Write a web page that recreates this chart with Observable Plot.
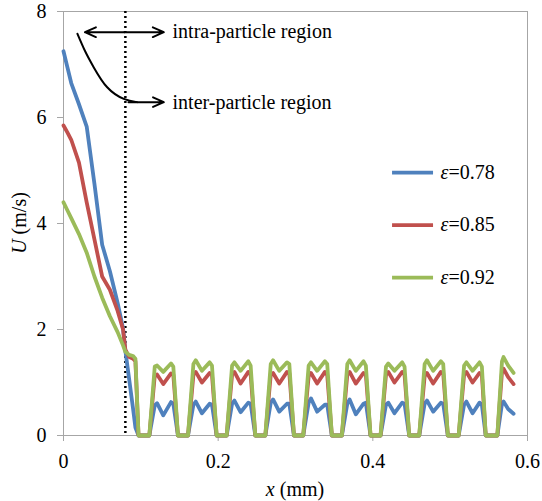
<!DOCTYPE html>
<html>
<head>
<meta charset="utf-8">
<script src="https://cdn.jsdelivr.net/npm/d3@7"></script>
<script src="https://cdn.jsdelivr.net/npm/@observablehq/plot@0.6"></script>
<style>
  html, body { margin: 0; padding: 0; background: #fff; }
  #chart { width: 542px; height: 501px; }
  #chart svg, #chart svg text, #chart svg g { font-family: "Liberation Serif", "Times New Roman", serif !important; font-size: 20px; }
</style>
</head>
<body>
<div id="chart"></div>
<script>
// ---- data ----
const seriesLabels = ["ε=0.78", "ε=0.85", "ε=0.92"];
const seriesColors = ["#4F81BD", "#C0504D", "#9BBB59"];

// inlet (intra-particle) part, shared x positions (mm)
const xInlet = [0, 0.005, 0.01, 0.02, 0.03, 0.04, 0.05, 0.06, 0.07, 0.077, 0.08, 0.085, 0.09, 0.093, 0.097];
const uInlet078 = [7.25, 6.95, 6.65, 6.25, 5.83, 4.75, 3.6, 3.1, 2.5, 2.02, 1.6, 1.05, 0.5, 0.15, 0];
const uInlet085 = [5.85, 5.72, 5.58, 5.15, 4.4, 3.7, 3.0, 2.75, 2.35, 2.0, 1.62, 1.48, 1.45, 1.4, 0];
const uInlet092 = [4.4, 4.25, 4.1, 3.8, 3.45, 3.0, 2.6, 2.25, 1.95, 1.7, 1.58, 1.52, 1.5, 1.45, 0];

// periodic (inter-particle) part, shared x positions (mm)
const xPeriodic = [
  0.111, 0.118, 0.121, 0.129, 0.139, 0.142, 0.148,
  0.161, 0.168, 0.171, 0.179, 0.189, 0.192, 0.198,
  0.211, 0.218, 0.221, 0.229, 0.239, 0.242, 0.248,
  0.261, 0.268, 0.271, 0.279, 0.289, 0.292, 0.298,
  0.310, 0.317, 0.320, 0.328, 0.338, 0.341, 0.347,
  0.360, 0.367, 0.370, 0.378, 0.388, 0.391, 0.397,
  0.410, 0.417, 0.420, 0.428, 0.438, 0.441, 0.447,
  0.460, 0.467, 0.470, 0.478, 0.488, 0.491, 0.497,
  0.511, 0.518, 0.521, 0.529, 0.538, 0.541, 0.546,
  0.561, 0.567, 0.569, 0.575, 0.582
];
const uPeriodic078 = [
  0, 0.57, 0.61, 0.38, 0.63, 0.60, 0,
  0, 0.58, 0.64, 0.42, 0.60, 0.58, 0,
  0, 0.60, 0.66, 0.44, 0.62, 0.60, 0,
  0, 0.62, 0.68, 0.45, 0.60, 0.60, 0,
  0, 0.62, 0.70, 0.45, 0.58, 0.58, 0,
  0, 0.60, 0.68, 0.40, 0.60, 0.62, 0,
  0, 0.58, 0.62, 0.42, 0.62, 0.60, 0,
  0, 0.60, 0.66, 0.45, 0.62, 0.60, 0,
  0, 0.58, 0.64, 0.42, 0.62, 0.58, 0,
  0, 0.60, 0.64, 0.50, 0.41
];
const uPeriodic085 = [
  0, 1.13, 1.15, 0.97, 1.17, 1.15, 0,
  0, 1.15, 1.20, 1.00, 1.18, 1.15, 0,
  0, 1.15, 1.20, 0.98, 1.20, 1.15, 0,
  0, 1.15, 1.18, 0.98, 1.20, 1.18, 0,
  0, 1.12, 1.18, 0.98, 1.20, 1.15, 0,
  0, 1.15, 1.20, 0.98, 1.18, 1.15, 0,
  0, 1.15, 1.20, 1.00, 1.20, 1.15, 0,
  0, 1.12, 1.18, 0.98, 1.20, 1.18, 0,
  0, 1.15, 1.20, 1.00, 1.18, 1.15, 0,
  0, 1.20, 1.26, 1.10, 0.97
];
const uPeriodic092 = [
  0, 1.30, 1.32, 1.20, 1.36, 1.30, 0,
  0, 1.35, 1.42, 1.22, 1.38, 1.32, 0,
  0, 1.32, 1.38, 1.22, 1.40, 1.32, 0,
  0, 1.35, 1.42, 1.22, 1.38, 1.35, 0,
  0, 1.32, 1.38, 1.22, 1.40, 1.35, 0,
  0, 1.35, 1.42, 1.22, 1.40, 1.32, 0,
  0, 1.30, 1.36, 1.22, 1.38, 1.30, 0,
  0, 1.35, 1.42, 1.22, 1.40, 1.35, 0,
  0, 1.32, 1.38, 1.22, 1.38, 1.30, 0,
  0, 1.40, 1.48, 1.32, 1.18
];

const xTicks = [0, 0.2, 0.4, 0.6];
const yTicks = [0, 2, 4, 6, 8];
const boundaryX = [0.08];

// annotations (data units)
const annotations = [
  {text: "intra-particle region", x: 0.141, y: 7.62},
  {text: "inter-particle region", x: 0.141, y: 6.28}
];
const doubleArrow = [
  {x1: 0.0787, x2: 0.0277, y: 7.61},
  {x1: 0.0787, x2: 0.1297, y: 7.61}
];
const curvePath = [
  {x: 0.018, y: 7.58}, {x: 0.028, y: 7.25}, {x: 0.039, y: 6.95},
  {x: 0.0565, y: 6.57}, {x: 0.078, y: 6.35}, {x: 0.095, y: 6.29}
];
const curveHead = [{x1: 0.084, x2: 0.1297, y: 6.29}];

// ---- build rows ----
const inletU = [uInlet078, uInlet085, uInlet092];
const periodicU = [uPeriodic078, uPeriodic085, uPeriodic092];
const rows = [];
seriesLabels.forEach((s, k) => {
  xInlet.forEach((x, i) => rows.push({series: s, x, u: inletU[k][i]}));
  xPeriodic.forEach((x, i) => rows.push({series: s, x, u: periodicU[k][i]}));
});
const legendRows = seriesLabels.map((s, i) => ({series: s, y: 4.96 - i * 0.99}));

const axisGray = "#a6a6a6";
const chart = Plot.plot({
  width: 542,
  height: 501,
  marginLeft: 63,
  marginRight: 15,
  marginTop: 11,
  marginBottom: 66,
  style: {fontFamily: "'Liberation Serif', 'Times New Roman', serif", fontSize: "20px", background: "#fff", color: "#000"},
  x: {domain: [0, 0.6]},
  y: {domain: [0, 8]},
  color: {domain: seriesLabels, range: seriesColors},
  marks: [
    Plot.frame({stroke: axisGray}),
    Plot.axisX({ticks: xTicks, tickSize: 6, tickPadding: 12, stroke: axisGray, fill: "#000", label: null,
      tickFormat: d => d === 0 ? "0" : d3.format(".1f")(d)}),
    Plot.axisY({ticks: yTicks, tickSize: 6, tickPadding: 11, stroke: axisGray, fill: "#000", label: null}),
    Plot.ruleX(boundaryX, {stroke: "#000", strokeWidth: 2.5, strokeDasharray: "2,3"}),
    Plot.line(rows, {x: "x", y: "u", z: "series", stroke: "series", strokeWidth: 3.8, strokeLinejoin: "round", strokeLinecap: "round"}),
    Plot.arrow(doubleArrow, {x1: "x1", x2: "x2", y1: "y", y2: "y", stroke: "#000", strokeWidth: 2, headLength: 9, headAngle: 48}),
    Plot.line(curvePath, {x: "x", y: "y", curve: "natural", stroke: "#000", strokeWidth: 2}),
    Plot.arrow(curveHead, {x1: "x1", x2: "x2", y1: "y", y2: "y", stroke: "#000", strokeWidth: 2, headLength: 9, headAngle: 48}),
    Plot.text(annotations, {x: "x", y: "y", text: "text", textAnchor: "start", fill: "#000"}),
    Plot.ruleY(legendRows, {y: "y", x1: 0.4255, x2: 0.4785, stroke: "series", strokeWidth: 3.8}),
    Plot.text(legendRows, {x: 0.4875, y: "y", text: "series", textAnchor: "start", fill: "#000"})
  ]
});
document.getElementById("chart").appendChild(chart);

const svg = d3.select(chart);
svg.attr("font-family", "Liberation Serif, serif").attr("font-size", 20);
svg.selectAll("g").attr("font-family", null);
// italic symbols in legend
svg.selectAll("text").each(function() {
  const s = this.textContent;
  if (s && s.startsWith("ε=")) {
    const t = d3.select(this);
    t.text(null);
    t.append("tspan").attr("font-style", "italic").text("ε");
    t.append("tspan").text(s.slice(1));
  }
});
// axis titles
const xt = svg.append("text").attr("x", 295).attr("y", 489).attr("dy", "0.35em")
  .attr("text-anchor", "middle").attr("fill", "#000");
xt.append("tspan").attr("font-style", "italic").text("x");
xt.append("tspan").text(" (mm)");
const yt = svg.append("text").attr("transform", "translate(19,223) rotate(-90)").attr("dy", "0.35em")
  .attr("text-anchor", "middle").attr("fill", "#000");
yt.append("tspan").attr("font-style", "italic").text("U");
yt.append("tspan").text(" (m/s)");
</script>
</body>
</html>
